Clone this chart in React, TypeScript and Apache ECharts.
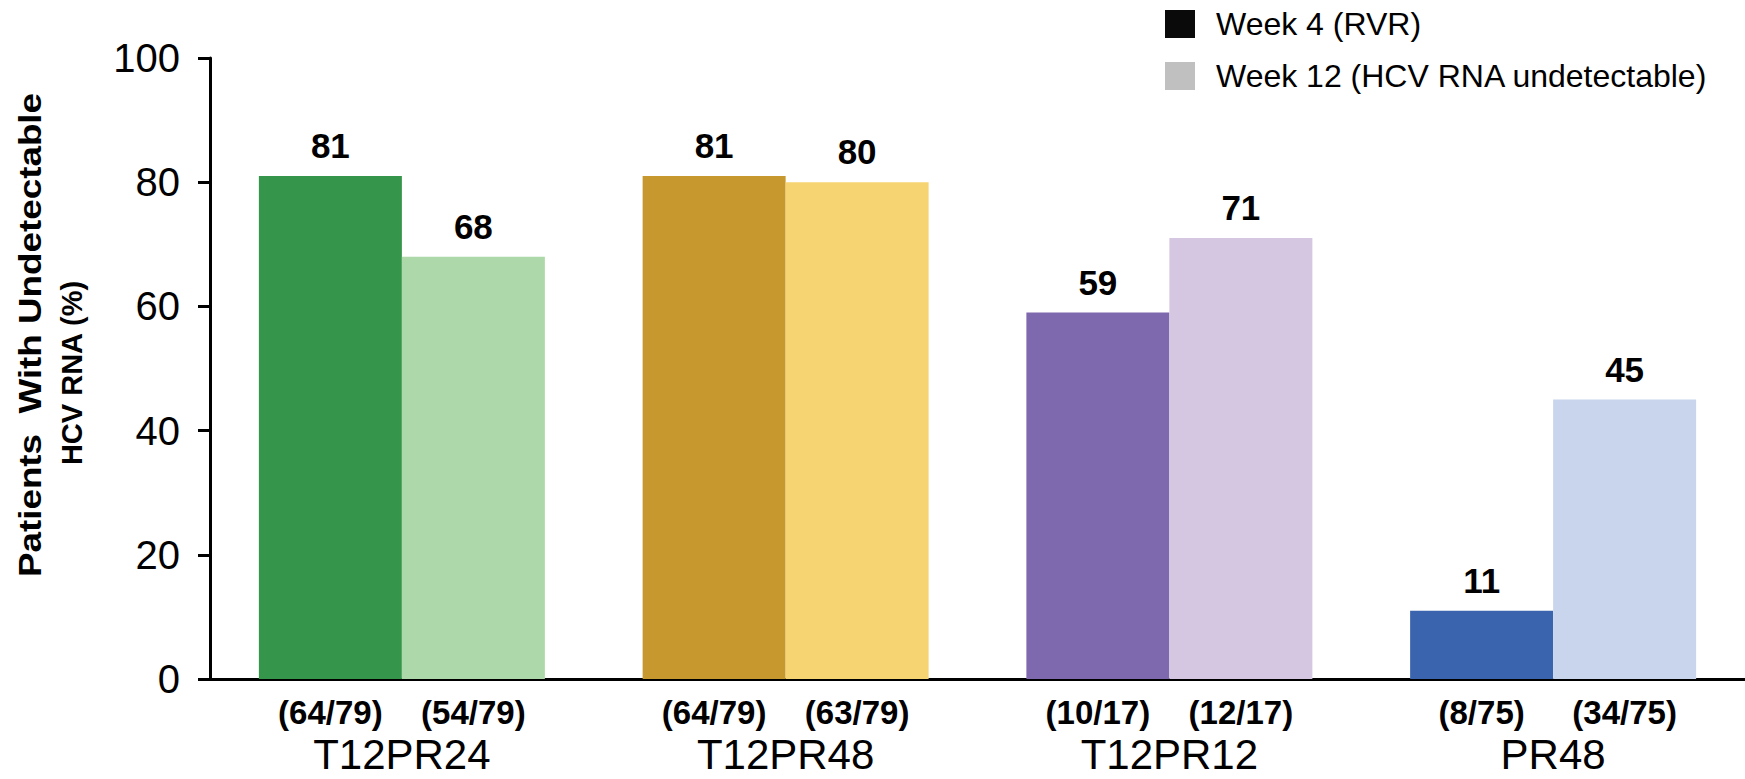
import React, { useEffect, useRef } from "react";
import * as echarts from "echarts";

const categories = ["T12PR24", "T12PR48", "T12PR12", "PR48"];
const week4Values = [81, 81, 59, 11];
const week12Values = [68, 80, 71, 45];
const week4Fractions = ["(64/79)", "(64/79)", "(10/17)", "(8/75)"];
const week12Fractions = ["(54/79)", "(63/79)", "(12/17)", "(34/75)"];
const week4Colors = ["#35954A", "#C7982E", "#7F69AE", "#3A64AD"];
const week12Colors = ["#ADD8A9", "#F7D472", "#D5C6E1", "#C9D5EC"];
const legendNames = ["Week 4 (RVR)", "Week 12 (HCV RNA undetectable)"];
const yTitleLines = ["Patients  With Undetectable", "HCV RNA (%)"];
const yMin = 0;
const yMax = 100;
const yInterval = 20;

const FONT = "'Liberation Sans', Arial, Helvetica, sans-serif";

export default function App() {
  const ref = useRef<HTMLDivElement>(null);

  useEffect(() => {
    document.body.style.margin = "0";
    document.body.style.overflow = "hidden";
    if (!ref.current) return;
    const chart = echarts.init(ref.current, null, { renderer: "svg" });

    const valueLabel = {
      show: true,
      position: "top",
      distance: 13,
      color: "#000",
      fontSize: 35,
      fontWeight: "bold",
      fontFamily: FONT,
    };

    chart.setOption({
      animation: false,
      backgroundColor: "#fff",
      textStyle: { fontFamily: FONT },
      grid: { left: 210, right: -5, top: 58, bottom: 100, containLabel: false },
      legend: {
        data: legendNames,
        orient: "vertical",
        left: 1165,
        top: 8,
        padding: 0,
        itemWidth: 30,
        itemHeight: 28,
        itemGap: 20,
        icon: "rect",
        textStyle: {
          fontSize: 32,
          color: "#000",
          fontFamily: FONT,
          padding: [0, 0, 0, 16],
        },
      },
      xAxis: {
        type: "category",
        data: categories,
        axisLine: { show: true, lineStyle: { color: "#000", width: 3 } },
        axisTick: { show: false },
        axisLabel: {
          interval: 0,
          margin: 5,
          color: "#000",
          formatter: (value: string, index: number) =>
            `{a|${week4Fractions[index]}}{b|${week12Fractions[index]}}\n{c|${value}}`,
          rich: {
            a: {
              width: 143,
              align: "center",
              fontSize: 33,
              fontWeight: "bold",
              lineHeight: 56,
              color: "#000",
              fontFamily: FONT,
            },
            b: {
              width: 143,
              align: "center",
              fontSize: 33,
              fontWeight: "bold",
              lineHeight: 56,
              color: "#000",
              fontFamily: FONT,
            },
            c: {
              fontSize: 42,
              lineHeight: 28,
              color: "#000",
              fontFamily: FONT,
            },
          },
        },
      },
      yAxis: {
        type: "value",
        min: yMin,
        max: yMax,
        interval: yInterval,
        splitLine: { show: false },
        axisLine: { show: true, lineStyle: { color: "#000", width: 3 } },
        axisTick: { show: true, length: 12, lineStyle: { color: "#000", width: 3 } },
        axisLabel: { fontSize: 40, color: "#000", margin: 30, fontFamily: FONT },
      },
      graphic: [
        {
          type: "text",
          x: 30,
          y: 335,
          rotation: Math.PI / 2,
          scaleX: 1.15,
          style: {
            text: yTitleLines[0],
            fontSize: 32,
            fontWeight: "bold",
            fontFamily: FONT,
            fill: "#000",
            align: "center",
            verticalAlign: "middle",
          },
        },
        {
          type: "text",
          x: 72,
          y: 373,
          rotation: Math.PI / 2,
          style: {
            text: yTitleLines[1],
            fontSize: 29,
            fontWeight: "bold",
            fontFamily: FONT,
            fill: "#000",
            align: "center",
            verticalAlign: "middle",
          },
        },
      ],
      series: [
        {
          name: legendNames[0],
          type: "bar",
          barWidth: 143,
          barGap: "0%",
          itemStyle: { color: "#0a0a0a" },
          label: valueLabel,
          data: week4Values.map((v, i) => ({ value: v, itemStyle: { color: week4Colors[i] } })),
        },
        {
          name: legendNames[1],
          type: "bar",
          barWidth: 143,
          barGap: "0%",
          itemStyle: { color: "#c0c0c0" },
          label: valueLabel,
          data: week12Values.map((v, i) => ({ value: v, itemStyle: { color: week12Colors[i] } })),
        },
      ],
    });

    return () => {
      chart.dispose();
    };
  }, []);

  return <div ref={ref} style={{ width: 1745, height: 779 }} />;
}
